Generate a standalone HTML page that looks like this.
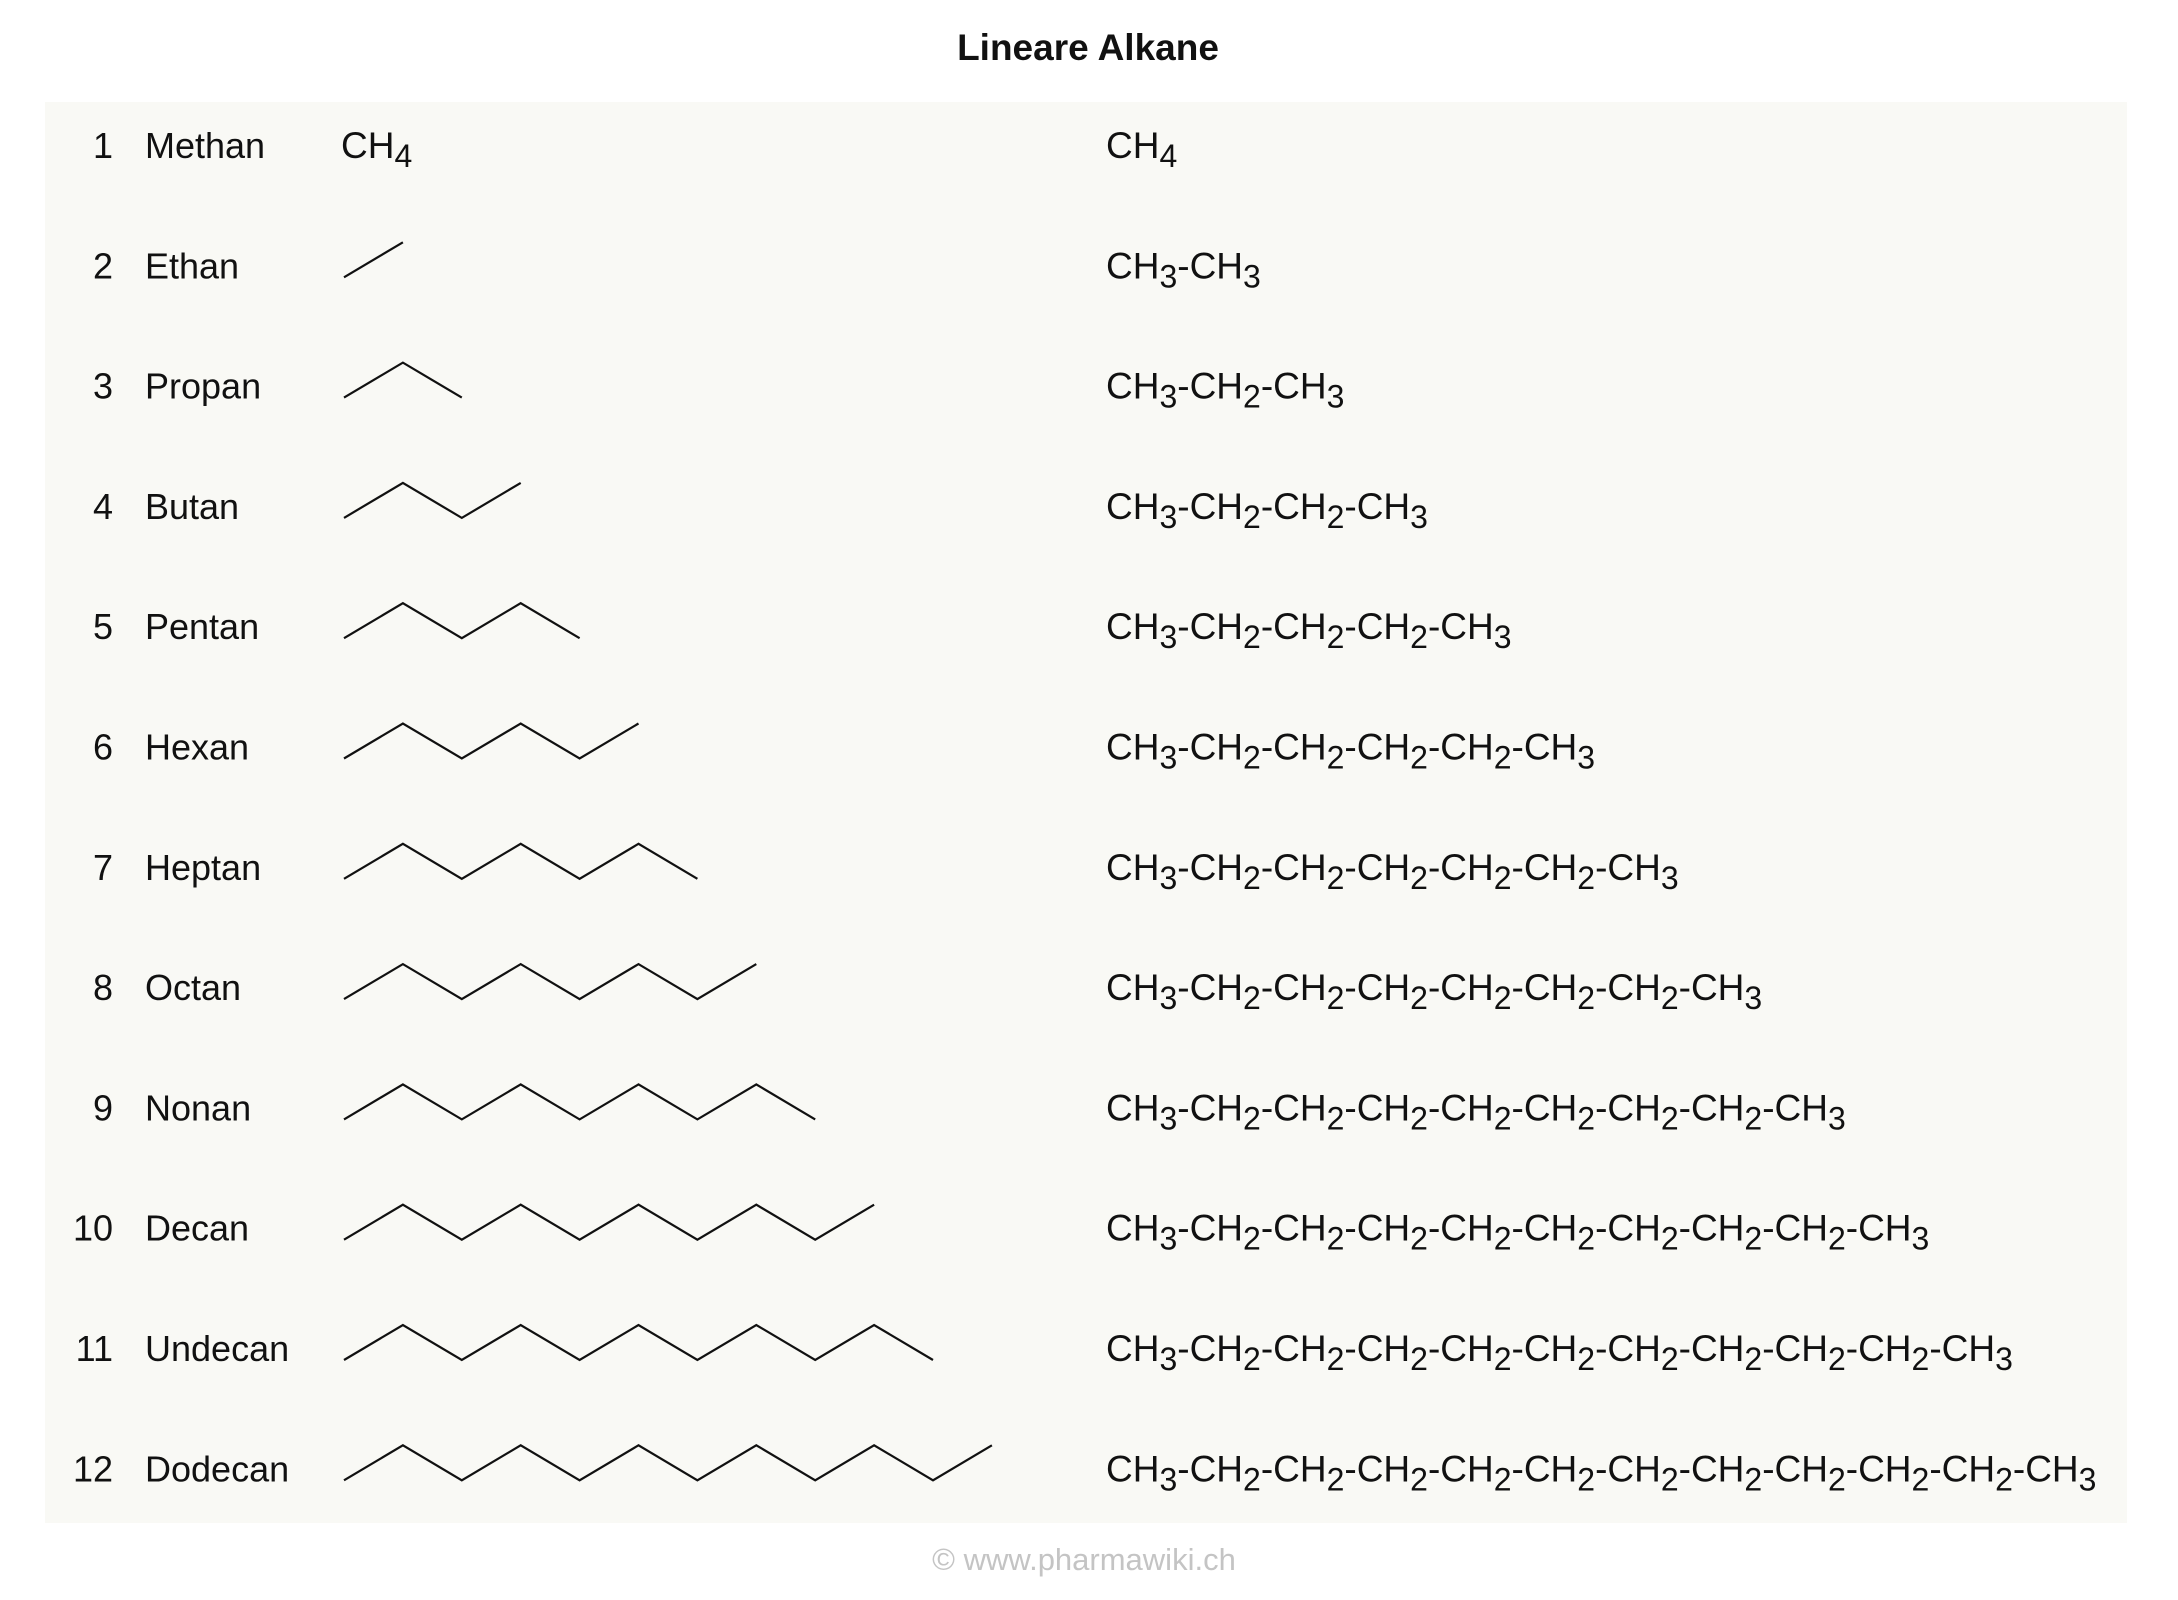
<!DOCTYPE html>
<html><head><meta charset="utf-8"><style>
html,body{margin:0;padding:0;background:#fff;}
body{width:2178px;height:1600px;position:relative;overflow:hidden;font-family:"Liberation Sans",Arial,sans-serif;color:#111;}
</style></head><body>
<svg width="2178" height="1600" xmlns="http://www.w3.org/2000/svg" style="position:absolute;left:0;top:0" font-family="Liberation Sans, Arial, sans-serif">
<text x="1088" y="60" text-anchor="middle" font-size="37" font-weight="bold" fill="#111">Lineare Alkane</text>
<rect x="45" y="102" width="2082" height="1421" fill="#f9f9f5"/>
<g id="rows"></g>
<text x="1084" y="1570" text-anchor="middle" font-size="31" fill="#c4c4c4">© www.pharmawiki.ch</text>
</svg>
<script>
const carbons=[1,2,3,4,5,6,7,8,9,10,11,12];
const names=["Methan","Ethan","Propan","Butan","Pentan","Hexan","Heptan","Octan","Nonan","Decan","Undecan","Dodecan"];
const NS="http://www.w3.org/2000/svg";
const g=document.getElementById('rows');
const rowY=i=>146+i*120.3;
const bondX=k=>344+k*58.9;
function mk(t,a){const e=document.createElementNS(NS,t);for(const k in a)e.setAttribute(k,a[k]);return e;}
function formulaText(x,y,parts,name){
  const t=mk('text',{x:x,y:y,'font-size':'37',fill:'#111'});
  
  
  let shifted=false;
  parts.forEach(p=>{
    const a=mk('tspan',shifted?{dy:'-9'}:{});a.textContent=p[0];t.appendChild(a);
    shifted=false;
    if(p[1]){const s=mk('tspan',{dy:'9','font-size':'32'});s.textContent=p[1];t.appendChild(s);shifted=true;}
  });
  return t;
}
carbons.forEach((n,i)=>{
  const cy=rowY(i);
  const base=cy+12;
  const num=mk('text',{x:113,y:base,'text-anchor':'end','font-size':'36',fill:'#111'});
  
  
  num.textContent=n;g.appendChild(num);
  const nm=mk('text',{x:145,y:base,'font-size':'36',fill:'#111'});
  
  
  nm.textContent=names[i];g.appendChild(nm);
  if(n===1){
    g.appendChild(formulaText(341,base,[['CH','4']],'skeletal-methan'));
  }else{
    const pts=[];
    for(let k=0;k<n;k++){pts.push(bondX(k)+','+(k%2===0?cy+11:cy-24));}
    const pl=mk('polyline',{points:pts.join(' '),fill:'none',stroke:'#111','stroke-width':'2.2'});
    
    
    g.appendChild(pl);
  }
  let parts;
  if(n===1)parts=[['CH','4']];
  else{parts=[['CH','3']];for(let k=0;k<n-2;k++)parts.push(['-CH','2']);parts.push(['-CH','3']);}
  g.appendChild(formulaText(1106,base,parts,'condensed-formula-'+n));
});
</script>
</body></html>
